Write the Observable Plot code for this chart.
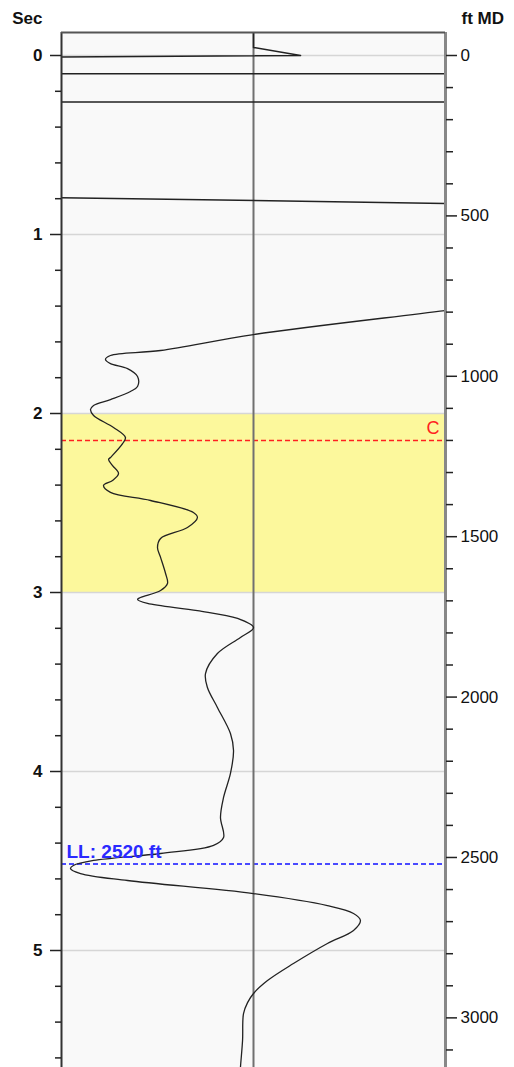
<!DOCTYPE html>
<html><head><meta charset="utf-8">
<script src="https://cdn.jsdelivr.net/npm/d3@7"></script>
<script src="https://cdn.jsdelivr.net/npm/@observablehq/plot@0.6"></script>
<style>body{margin:0;background:#fff;font-family:"Liberation Sans",Arial,sans-serif}</style>
</head><body><div id="chart"></div>
<script>
// ---- data ----
const FT_PER_SEC = 558;
const timeDomain = [-0.1285, 5.6536];
const secLabels = [0, 1, 2, 3, 4, 5];
const secMinor = [0.2, 0.4, 0.6, 0.8, 1.2, 1.4, 1.6, 1.8, 2.2, 2.4, 2.6, 2.8, 3.2, 3.4, 3.6, 3.8, 4.2, 4.4, 4.6, 4.8, 5.2, 5.4, 5.6];
const ftLabels = [0, 500, 1000, 1500, 2000, 2500, 3000];
const ftMinor = [100, 200, 300, 400, 600, 700, 800, 900, 1100, 1200, 1300, 1400, 1600, 1700, 1800, 1900, 2100, 2200, 2300, 2400, 2600, 2700, 2800, 2900, 3100];
const bandStart = 2, bandEnd = 3;
const cDepthFt = 1200, cLabel = "C";
const llDepthFt = 2520;

// top (clipped, straight) part of the trace
const topAmp  = [0, 0, 0.245, -1.6, -1.6, 1.6, 1.6, -1.6, -1.6, 1.6];
const topTime = [-0.128, -0.045, 0.0, 0.013, 0.102, 0.102, 0.26, 0.26, 0.785, 0.836];
// main smooth trace
const mainAmp = [1.6, 1.0, 0, -0.484, -0.745, -0.771, -0.745, -0.656, -0.604, -0.604, -0.641, -0.745, -0.833, -0.849, -0.833, -0.729, -0.667, -0.682, -0.745, -0.755, -0.734, -0.703, -0.734, -0.781, -0.745, -0.536, -0.313, -0.292, -0.344, -0.484, -0.5, -0.484, -0.458, -0.448, -0.484, -0.589, -0.604, -0.552, -0.292, -0.083, 0, -0.068, -0.188, -0.25, -0.24, -0.188, -0.12, -0.104, -0.12, -0.156, -0.172, -0.156, -0.208, -0.484, -0.833, -0.938, -0.953, -0.901, -0.656, 0, 0.385, 0.521, 0.557, 0.521, 0.385, 0.208, 0.073, 0, -0.031, -0.052, -0.057, -0.068, -0.07];
const mainTime = [1.344, 1.425, 1.559, 1.648, 1.676, 1.698, 1.721, 1.749, 1.793, 1.849, 1.877, 1.922, 1.955, 1.978, 2.011, 2.078, 2.134, 2.168, 2.246, 2.257, 2.291, 2.335, 2.374, 2.402, 2.441, 2.486, 2.553, 2.581, 2.637, 2.698, 2.749, 2.804, 2.894, 2.95, 2.989, 3.028, 3.039, 3.061, 3.101, 3.145, 3.196, 3.251, 3.341, 3.453, 3.531, 3.642, 3.788, 3.883, 4.011, 4.145, 4.257, 4.369, 4.413, 4.458, 4.497, 4.525, 4.542, 4.57, 4.609, 4.682, 4.749, 4.793, 4.832, 4.888, 4.961, 5.073, 5.168, 5.24, 5.291, 5.352, 5.503, 5.654, 5.7];

// ---- derived tables ----
const topTrace = topAmp.map((a, i) => ({a, t: topTime[i]}));
const mainTrace = mainAmp.map((a, i) => ({a, t: mainTime[i]}));
const toSec = ft => ft / FT_PER_SEC;
const cTime = toSec(cDepthFt), llTime = toSec(llDepthFt);

const chart = Plot.plot({
  width: 514, height: 1067,
  marginLeft: 61, marginRight: 69, marginTop: 32, marginBottom: 0,
  style: {fontFamily: '"Liberation Sans", Arial, sans-serif', background: "#fff"},
  x: {domain: [-1, 1], axis: null},
  y: {domain: timeDomain, range: [32, 1067], axis: null},
  marks: [
    Plot.frame({fill: "#f9f9f9", stroke: null}),
    Plot.rect([{y1: bandStart, y2: bandEnd}], {y1: "y1", y2: "y2", fill: "#fcf89c"}),
    Plot.ruleY(secLabels, {stroke: "#d6d6d6", strokeWidth: 1.5}),
    Plot.ruleY([cTime], {stroke: "#ff2020", strokeWidth: 1.5, strokeDasharray: "5,3"}),
    Plot.ruleY([llTime], {stroke: "#4a4aff", strokeWidth: 2, strokeDasharray: "5,3"}),
    Plot.ruleX([0], {stroke: "#707070", strokeWidth: 2}),
    Plot.line(topTrace, {x: "a", y: "t", stroke: "#222", strokeWidth: 1.5, curve: "linear", clip: true}),
    Plot.line(mainTrace, {x: "a", y: "t", stroke: "#222", strokeWidth: 1.3, curve: "catmull-rom", clip: true}),
    Plot.ruleX([-1], {stroke: "#333", strokeWidth: 2}),
    Plot.ruleX([1], {stroke: "#888", strokeWidth: 3}),
    Plot.ruleY([timeDomain[0]], {x1: -1, x2: 1, stroke: "#555", strokeWidth: 2}),
    // left axis (seconds)
    Plot.axisY(secLabels, {anchor: "left", tickSize: 11, tickPadding: 8, fontSize: 17, fontWeight: "bold", stroke: "#222", strokeWidth: 1.5, label: null, tickFormat: d => String(d), fill: "#111"}),
    Plot.axisY(secMinor, {anchor: "left", tickSize: 6, stroke: "#222", strokeWidth: 1.5, label: null, tickFormat: () => ""}),
    // right axis (ft MD)
    Plot.axisY(ftLabels.map(toSec), {anchor: "right", tickSize: 11, tickPadding: 4, fontSize: 17, stroke: "#222", strokeWidth: 1.5, label: null, tickFormat: d => String(Math.round(d * FT_PER_SEC)), fill: "#111"}),
    Plot.axisY(ftMinor.map(toSec), {anchor: "right", tickSize: 7, stroke: "#222", strokeWidth: 1.5, label: null, tickFormat: () => ""}),
    // titles
    Plot.text(["Sec"], {frameAnchor: "top-left", dx: -19, dy: -9, textAnchor: "end", lineAnchor: "bottom", fontSize: 17, fontWeight: "bold", fill: "#111"}),
    Plot.text(["ft MD"], {frameAnchor: "top-right", dx: 16, dy: -9, textAnchor: "start", lineAnchor: "bottom", fontSize: 17, fontWeight: "bold", fill: "#111"}),
    // horizon labels
    Plot.text([{t: cTime, s: cLabel}], {x: () => 1, y: "t", text: "s", dx: -6, dy: -6, textAnchor: "end", lineAnchor: "bottom", fontSize: 18, fill: "#ff2020"}),
    Plot.text([{t: llTime, s: `LL: ${llDepthFt} ft`}], {x: () => -1, y: "t", text: "s", dx: 5, dy: -6, textAnchor: "start", lineAnchor: "bottom", fontSize: 19, fontWeight: "bold", fill: "#2a2aff"})
  ]
});
document.getElementById("chart").append(chart);
</script>
</body></html>
